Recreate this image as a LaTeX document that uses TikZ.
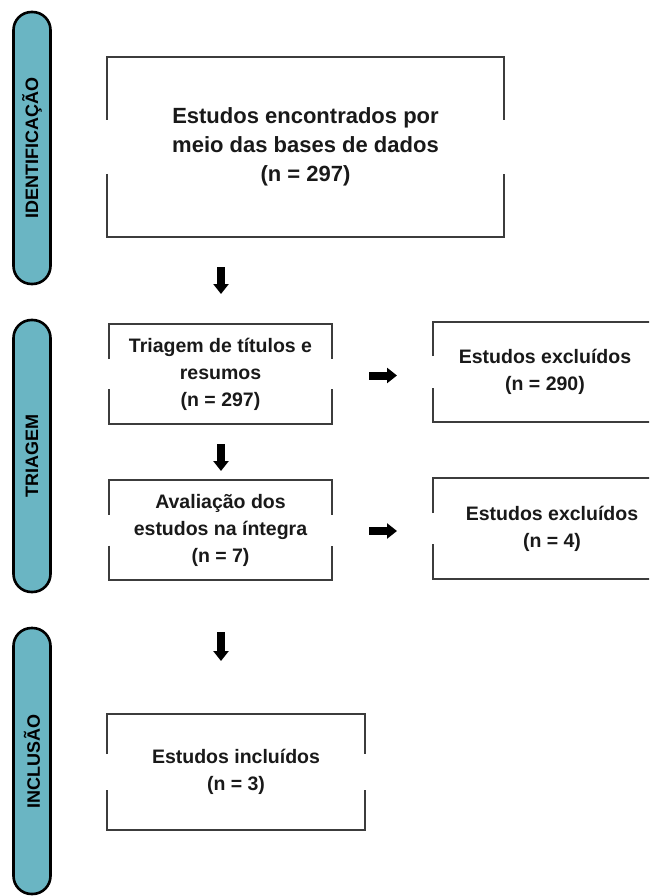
\documentclass[tikz,border=0pt]{standalone}
\usepackage{fontspec}
\setmainfont{Liberation Sans}
\usetikzlibrary{arrows.meta}
\definecolor{stagefill}{HTML}{6AB5C3}
\definecolor{boxgray}{HTML}{3C3C3C}
\tikzset{
  stage/.style={draw=black, line width=2.6pt, fill=stagefill, rounded corners=18pt,
    rotate=90, minimum height=37pt, inner sep=0pt, font=\fontsize{18}{22}\selectfont\bfseries},
  box/.style={inner sep=0pt, align=center, text=black!90, font=\fontsize{19.5}{27}\selectfont\bfseries},
  boxline/.style={draw=boxgray, line width=2pt},
  blockarrow/.style={line width=8pt, -{Triangle[width=15pt,length=10pt]}}
}
\newcommand{\gapbox}[2]{%
  \draw[boxline] ([yshift=#2]#1.west) |- (#1.north east) -- ([yshift=#2]#1.east);
  \draw[boxline] ([yshift=-#2]#1.west) |- (#1.south east) -- ([yshift=-#2]#1.east);}
\begin{document}
\begin{tikzpicture}[x=1pt,y=-1pt]
\clip (0,0) rectangle (649,896);

\node (s1) at (32,148) [stage, minimum width=272pt] {IDENTIFICAÇÃO};
\node (s2) at (32,456) [stage, minimum width=272pt] {TRIAGEM};
\node (s3) at (32,761) [stage, minimum width=266pt] {INCLUSÃO};

\node (b1) at (305.5,147) [box, minimum width=397pt, minimum height=180pt,
  font=\fontsize{22}{29}\selectfont\bfseries] {Estudos encontrados por\\meio das bases de dados\\(n = 297)};
\node (b2) at (220.5,374) [box, minimum width=223pt, minimum height=100pt] {Triagem de títulos e\\resumos\\(n = 297)};
\node (b3) at (220.5,530) [box, minimum width=223pt, minimum height=100pt] {Avaliação dos\\estudos na íntegra\\(n = 7)};
\node (x1) at (545,372) [box, minimum width=224pt, minimum height=100pt] {Estudos excluídos\\(n = 290)};
\node (x2) at (552,528.5) [box, minimum width=238pt, minimum height=101pt] {Estudos excluídos\\(n = 4)};
\node (b4) at (236,772) [box, minimum width=258pt, minimum height=116pt] {Estudos incluídos\\(n = 3)};

\gapbox{b1}{27}
\gapbox{b2}{15}
\gapbox{b3}{15.5}
\gapbox{x1}{16}
\gapbox{x2}{15.5}
\gapbox{b4}{18}

\coordinate (d1a) at (221,267);
\coordinate (d1b) at (221,294);
\coordinate (d2a) at (221,444);
\coordinate (d2b) at (221,471);
\coordinate (d3a) at (221,632);
\coordinate (d3b) at (221,661);
\coordinate (r1a) at (369,375.5);
\coordinate (r1b) at (397,375.5);
\coordinate (r2a) at (369,531);
\coordinate (r2b) at (397,531);

\draw[blockarrow] (d1a) -- (d1b);
\draw[blockarrow] (d2a) -- (d2b);
\draw[blockarrow] (d3a) -- (d3b);
\draw[blockarrow] (r1a) -- (r1b);
\draw[blockarrow] (r2a) -- (r2b);
\end{tikzpicture}
\end{document}
